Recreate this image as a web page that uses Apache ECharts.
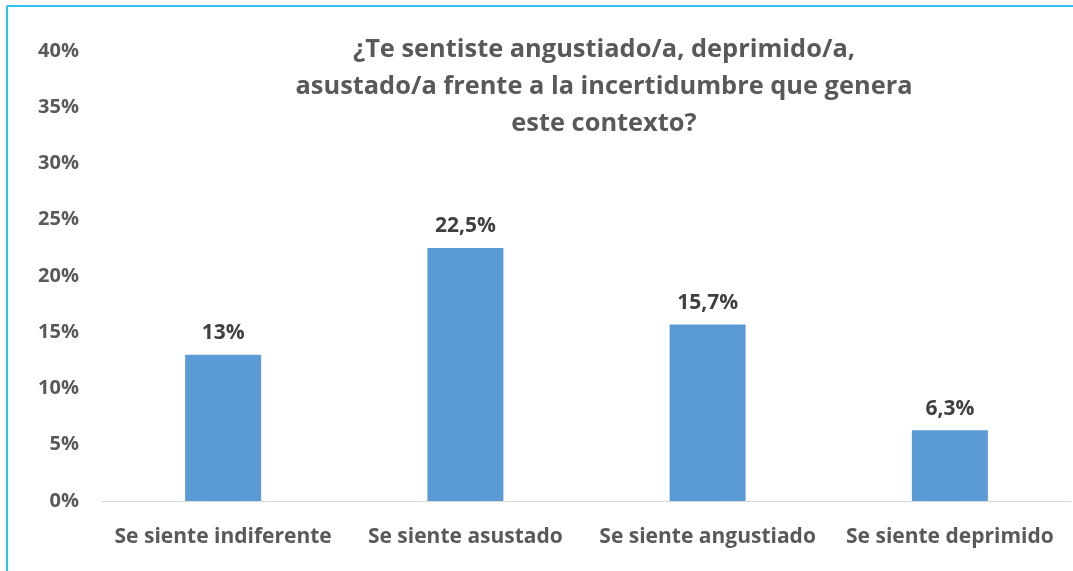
<!DOCTYPE html>
<html>
<head>
<meta charset="utf-8">
<script src="https://cdn.jsdelivr.net/npm/echarts@6/dist/echarts.min.js"></script>
<style>
  html, body { margin: 0; padding: 0; background: #fff; }
  #chart { width: 1073px; height: 571px; }
</style>
</head>
<body>
<div id="chart"></div>
<script>
// datos del gráfico
const categorias = ['Se siente indiferente', 'Se siente asustado', 'Se siente angustiado', 'Se siente deprimido']
const valores = [13, 22.5, 15.7, 6.3]
const tituloLineas = [
  '¿Te sentiste angustiado/a, deprimido/a,',
  'asustado/a frente a la incertidumbre que genera',
  'este contexto?'
]

const fuente = '"Open Sans", "Noto Sans", sans-serif'
const chart = echarts.init(document.getElementById('chart'))

const option = {
  animation: false,
  title: {
    text: tituloLineas.join('\n'),
    left: 599,
    top: 26,
    textAlign: 'center',
    textStyle: {
      fontFamily: fuente,
      fontSize: 25.4,
      fontWeight: 'bold',
      color: '#595959',
      lineHeight: 37
    }
  },
  grid: {
    left: 102,
    right: 2,
    top: 51,
    bottom: 70
  },
  xAxis: {
    type: 'category',
    data: categorias,
    axisLine: { show: true, lineStyle: { color: '#d9d9d9', width: 1 } },
    axisTick: { show: false },
    axisLabel: {
      interval: 0,
      hideOverlap: false,
      margin: 26,
      fontFamily: fuente,
      fontSize: 21,
      fontWeight: 'bold',
      color: '#595959'
    }
  },
  yAxis: {
    type: 'value',
    min: 0,
    max: 40,
    interval: 5,
    splitLine: { show: false },
    axisLine: { show: false },
    axisTick: { show: false },
    axisLabel: {
      margin: 23,
      formatter: '{value}%',
      fontFamily: fuente,
      fontSize: 20,
      fontWeight: 'bold',
      color: '#595959'
    }
  },
  series: [
    {
      type: 'bar',
      data: valores,
      barWidth: 76,
      itemStyle: { color: '#5b9bd5' },
      label: {
        show: true,
        position: 'top',
        distance: 11,
        formatter: p => String(p.value).replace('.', ',') + '%',
        fontFamily: fuente,
        fontSize: 21,
        fontWeight: 'bold',
        color: '#404040'
      }
    }
  ],
  graphic: [
    {
      type: 'line',
      shape: { x1: 7, y1: 6, x2: 1073, y2: 6 },
      style: { stroke: '#2ec4f0', lineWidth: 2 }
    },
    {
      type: 'line',
      shape: { x1: 7, y1: 6, x2: 7, y2: 571 },
      style: { stroke: '#2ec4f0', lineWidth: 2 }
    }
  ]
}

chart.setOption(option)
</script>
</body>
</html>
